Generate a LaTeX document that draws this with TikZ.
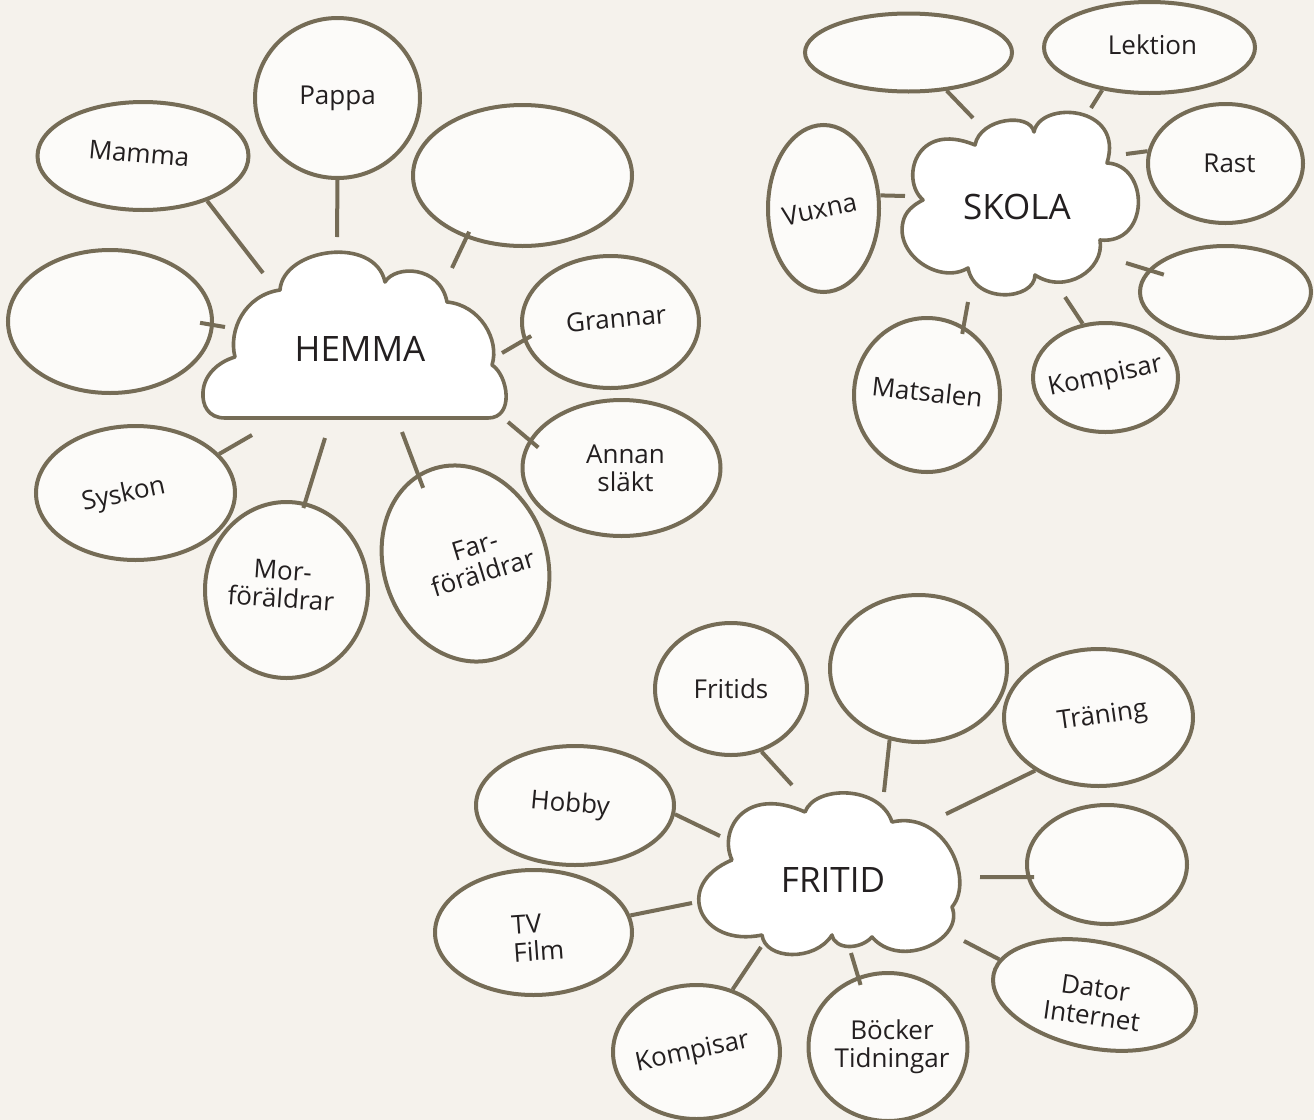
\documentclass[tikz,border=0pt]{standalone}
\usepackage{fontspec}
\setmainfont{Open Sans}
\usetikzlibrary{shapes.geometric}
\definecolor{paper}{RGB}{245,242,236}
\definecolor{rim}{RGB}{117,108,86}
\definecolor{bubblefill}{RGB}{252,251,249}
\definecolor{ink}{RGB}{35,31,32}

\begin{document}
\begin{tikzpicture}[x=0.5pt,y=-0.5pt,
    bubble/.style={ellipse,draw=rim,line width=2pt,fill=bubblefill,inner sep=0pt,
      text=ink,font=\fontsize{13}{14}\selectfont,align=center},
    lbl/.style={text=ink,font=\fontsize{13}{14}\selectfont,align=center},
    puff/.style={draw=rim,line width=1.8pt,fill=white,line join=round},
    hub/.style={text=ink,font=\fontsize{17.5}{20}\selectfont},
    link/.style={draw=rim,line width=2pt}]
  \useasboundingbox (0,0) rectangle (1314,1120);
  \fill[paper] (0,0) rectangle (1314,1120);

  % clouds
  \draw[puff] (225,418) .. controls (208,418) and (202,405) .. (203,392)
    .. controls (204,375) and (218,362) .. (235,357)
    .. controls (228,330) and (245,295) .. (280,290)
    .. controls (283,248) and (375,235) .. (385,282)
    .. controls (395,265) and (440,265) .. (447,302)
    .. controls (480,305) and (500,340) .. (492,365)
    .. controls (508,375) and (515,418) .. (488,418) -- cycle;
  \draw[puff] (923,200) .. controls (900,180) and (915,120) .. (975,145)
    .. controls (980,118) and (1030,112) .. (1034,132)
    .. controls (1040,100) and (1125,105) .. (1107,163)
    .. controls (1150,165) and (1150,245) .. (1100,240)
    .. controls (1105,270) and (1065,295) .. (1035,275)
    .. controls (1035,300) and (975,305) .. (968,268)
    .. controls (940,285) and (895,255) .. (903,222)
    .. controls (905,212) and (913,205) .. (923,200) -- cycle;
  \draw[puff] (732,860) .. controls (718,830) and (745,785) .. (805,812)
    .. controls (815,785) and (880,785) .. (892,822)
    .. controls (945,810) and (975,880) .. (952,907)
    .. controls (965,940) and (900,970) .. (872,937)
    .. controls (860,950) and (835,950) .. (832,935)
    .. controls (815,962) and (765,960) .. (762,935)
    .. controls (700,948) and (672,885) .. (732,860) -- cycle;
  \node[hub] (hemma) at (360,349) {HEMMA};
  \node[hub] (skola) at (1017,207) {SKOLA};
  \node[hub] (fritid) at (833,880) {FRITID};

  % HEMMA
  \node[bubble,minimum width=82.5pt,minimum height=80pt] (pappa) at (337.5,98) {Pappa};
  \node[bubble,minimum width=105.5pt,minimum height=54pt,
        label={[lbl,rotate=-5,xshift=-2pt,yshift=1pt]center:Mamma}] (mamma) at (143,156) {};
  \node[bubble,minimum width=102pt,minimum height=71.5pt] (hleft) at (110,321.5) {};
  \node[bubble,minimum width=109.5pt,minimum height=70.5pt] (htr) at (522.5,175.5) {};
  \node[bubble,minimum width=88.5pt,minimum height=66pt,
        label={[lbl,rotate=5,xshift=3pt,yshift=1.5pt]center:Grannar}] (grannar) at (610.5,322) {};
  \node[bubble,minimum width=99pt,minimum height=68pt,
        label={[lbl,xshift=2pt]center:Annan\\släkt}] (annan) at (621.5,468) {};
  \node[bubble,minimum width=81.5pt,minimum height=100pt,rotate=20,
        label={[lbl,rotate=17,xshift=7pt]center:Far-\\föräldrar}] (far) at (465.5,563.5) {};
  \node[bubble,minimum width=81.5pt,minimum height=88pt,
        label={[lbl,rotate=-4,xshift=-2.5pt,yshift=2.5pt]center:Mor-\\föräldrar}] (mor) at (286.5,590) {};
  \node[bubble,minimum width=99.5pt,minimum height=67pt,
        label={[lbl,rotate=12,xshift=-6pt]center:Syskon}] (syskon) at (135.5,493) {};

  % SKOLA
  \node[bubble,minimum width=103.5pt,minimum height=39pt] (stl) at (908.5,52.5) {};
  \node[bubble,minimum width=105.5pt,minimum height=45.5pt,
        label={[lbl,xshift=1.5pt,yshift=1.5pt]center:Lektion}] (lektion) at (1149.5,47.5) {};
  \node[bubble,minimum width=77.5pt,minimum height=59.5pt,
        label={[lbl,xshift=2pt]center:Rast}] (rast) at (1225.5,163.5) {};
  \node[bubble,minimum width=85.5pt,minimum height=46pt] (sright) at (1225.5,292) {};
  \node[bubble,minimum width=72.5pt,minimum height=54.5pt,
        label={[lbl,rotate=12]center:Kompisar}] (komps) at (1105.5,377.5) {};
  \node[bubble,minimum width=73pt,minimum height=77pt,
        label={[lbl,rotate=-6,yshift=1.5pt]center:Matsalen}] (matsalen) at (927,395) {};
  \node[bubble,minimum width=55.5pt,minimum height=83.5pt,
        label={[lbl,rotate=12,xshift=-2pt]center:Vuxna}] (vuxna) at (823.5,208.5) {};

  % FRITID
  \node[bubble,minimum width=76pt,minimum height=66pt] (fritids) at (731,689) {Fritids};
  \node[bubble,minimum width=88.5pt,minimum height=73.5pt] (ftop) at (918.5,668.5) {};
  \node[bubble,minimum width=94.5pt,minimum height=68.5pt,
        label={[lbl,rotate=8,xshift=2pt]center:Träning}] (traning) at (1098.5,717.5) {};
  \node[bubble,minimum width=80pt,minimum height=59.5pt] (fright) at (1107,864.5) {};
  \node[bubble,minimum width=103pt,minimum height=53pt,rotate=-11.5,
        label={[lbl,rotate=-8,yshift=-3.5pt]center:Dator\\Internet}] (dator) at (1094.5,995) {};
  \node[bubble,minimum width=79.5pt,minimum height=74pt,
        label={[lbl,xshift=2pt]center:Böcker\\Tidningar}] (bocker) at (888,1047) {};
  \node[bubble,minimum width=83.5pt,minimum height=67pt,
        label={[lbl,rotate=12,xshift=-2pt]center:Kompisar}] (kompf) at (696.5,1052) {};
  \node[bubble,minimum width=98.5pt,minimum height=62.5pt,
        label={[lbl,align=left,rotate=4,xshift=2pt,yshift=-2.5pt]center:TV\\Film}] (tvfilm) at (533.5,932.5) {};
  \node[bubble,minimum width=99pt,minimum height=59.5pt,
        label={[lbl,rotate=-5,xshift=-2.5pt]center:Hobby}] (hobby) at (575,805.5) {};

  % free ends next to the clouds
  \coordinate (hm1) at (337,237);
  \coordinate (hm2) at (263,273);
  \coordinate (hm3) at (225,327);
  \coordinate (hm4) at (452,268);
  \coordinate (hm5) at (502,353);
  \coordinate (hm6) at (508,422);
  \coordinate (hm7) at (402,432);
  \coordinate (hm8) at (325,438);
  \coordinate (hm9) at (252,435);
  \coordinate (sk1) at (973,118);
  \coordinate (sk2) at (1091,108);
  \coordinate (sk3) at (1126,154);
  \coordinate (sk4) at (1126,263);
  \coordinate (sk5) at (1065,297);
  \coordinate (sk6) at (968,302);
  \coordinate (sk7) at (905,196);
  \coordinate (fr1) at (792,785);
  \coordinate (fr2) at (884,792);
  \coordinate (fr3) at (946,814);
  \coordinate (fr4) at (980,877);
  \coordinate (fr5) at (964,941);
  \coordinate (fr6) at (851,953);
  \coordinate (fr7) at (761,947);
  \coordinate (fr8) at (692,903);
  \coordinate (fr9) at (720,836);

  \draw[link] (hm1) -- (pappa.south);
  \draw[link] (hm2) -- (mamma.-35);
  \draw[link,shorten >=-7pt] (hm3) -- (hleft.-2);
  \draw[link,shorten >=-3.5pt] (hm4) -- (htr.-132);
  \draw[link,shorten >=-4.5pt] (hm5) -- (grannar.-168);
  \draw[link,shorten >=-6pt] (hm6) -- (annan.163);
  \draw[link,shorten >=-7.5pt] (hm7) -- (far.98);
  \draw[link,shorten >=-3pt] (hm8) -- (mor.78);
  \draw[link] (hm9) -- (syskon.25);

  \draw[link] (sk1) -- (stl.-45);
  \draw[link] (sk2) -- (lektion.-138);
  \draw[link] (sk3) -- (rast.171);
  \draw[link,shorten >=-8.3pt] (sk4) -- (sright.164);
  \draw[link] (sk5) -- (komps.113);
  \draw[link,shorten >=-4pt] (sk6) -- (matsalen.62);
  \draw[link] (sk7) -- (vuxna.13);

  \draw[link] (fr1) -- (fritids.-64);
  \draw[link] (fr2) -- (ftop.-112);
  \draw[link] (fr3) -- (traning.-140);
  \draw[link,shorten >=-3.7pt] (fr4) -- (fright.-171);
  \draw[link] (fr5) -- (dator.171);
  \draw[link,shorten >=-4.5pt] (fr6) -- (bocker.113);
  \draw[link] (fr7) -- (kompf.60);
  \draw[link] (fr8) -- (tvfilm.10);
  \draw[link] (fr9) -- (hobby.-5);
\end{tikzpicture}
\end{document}
